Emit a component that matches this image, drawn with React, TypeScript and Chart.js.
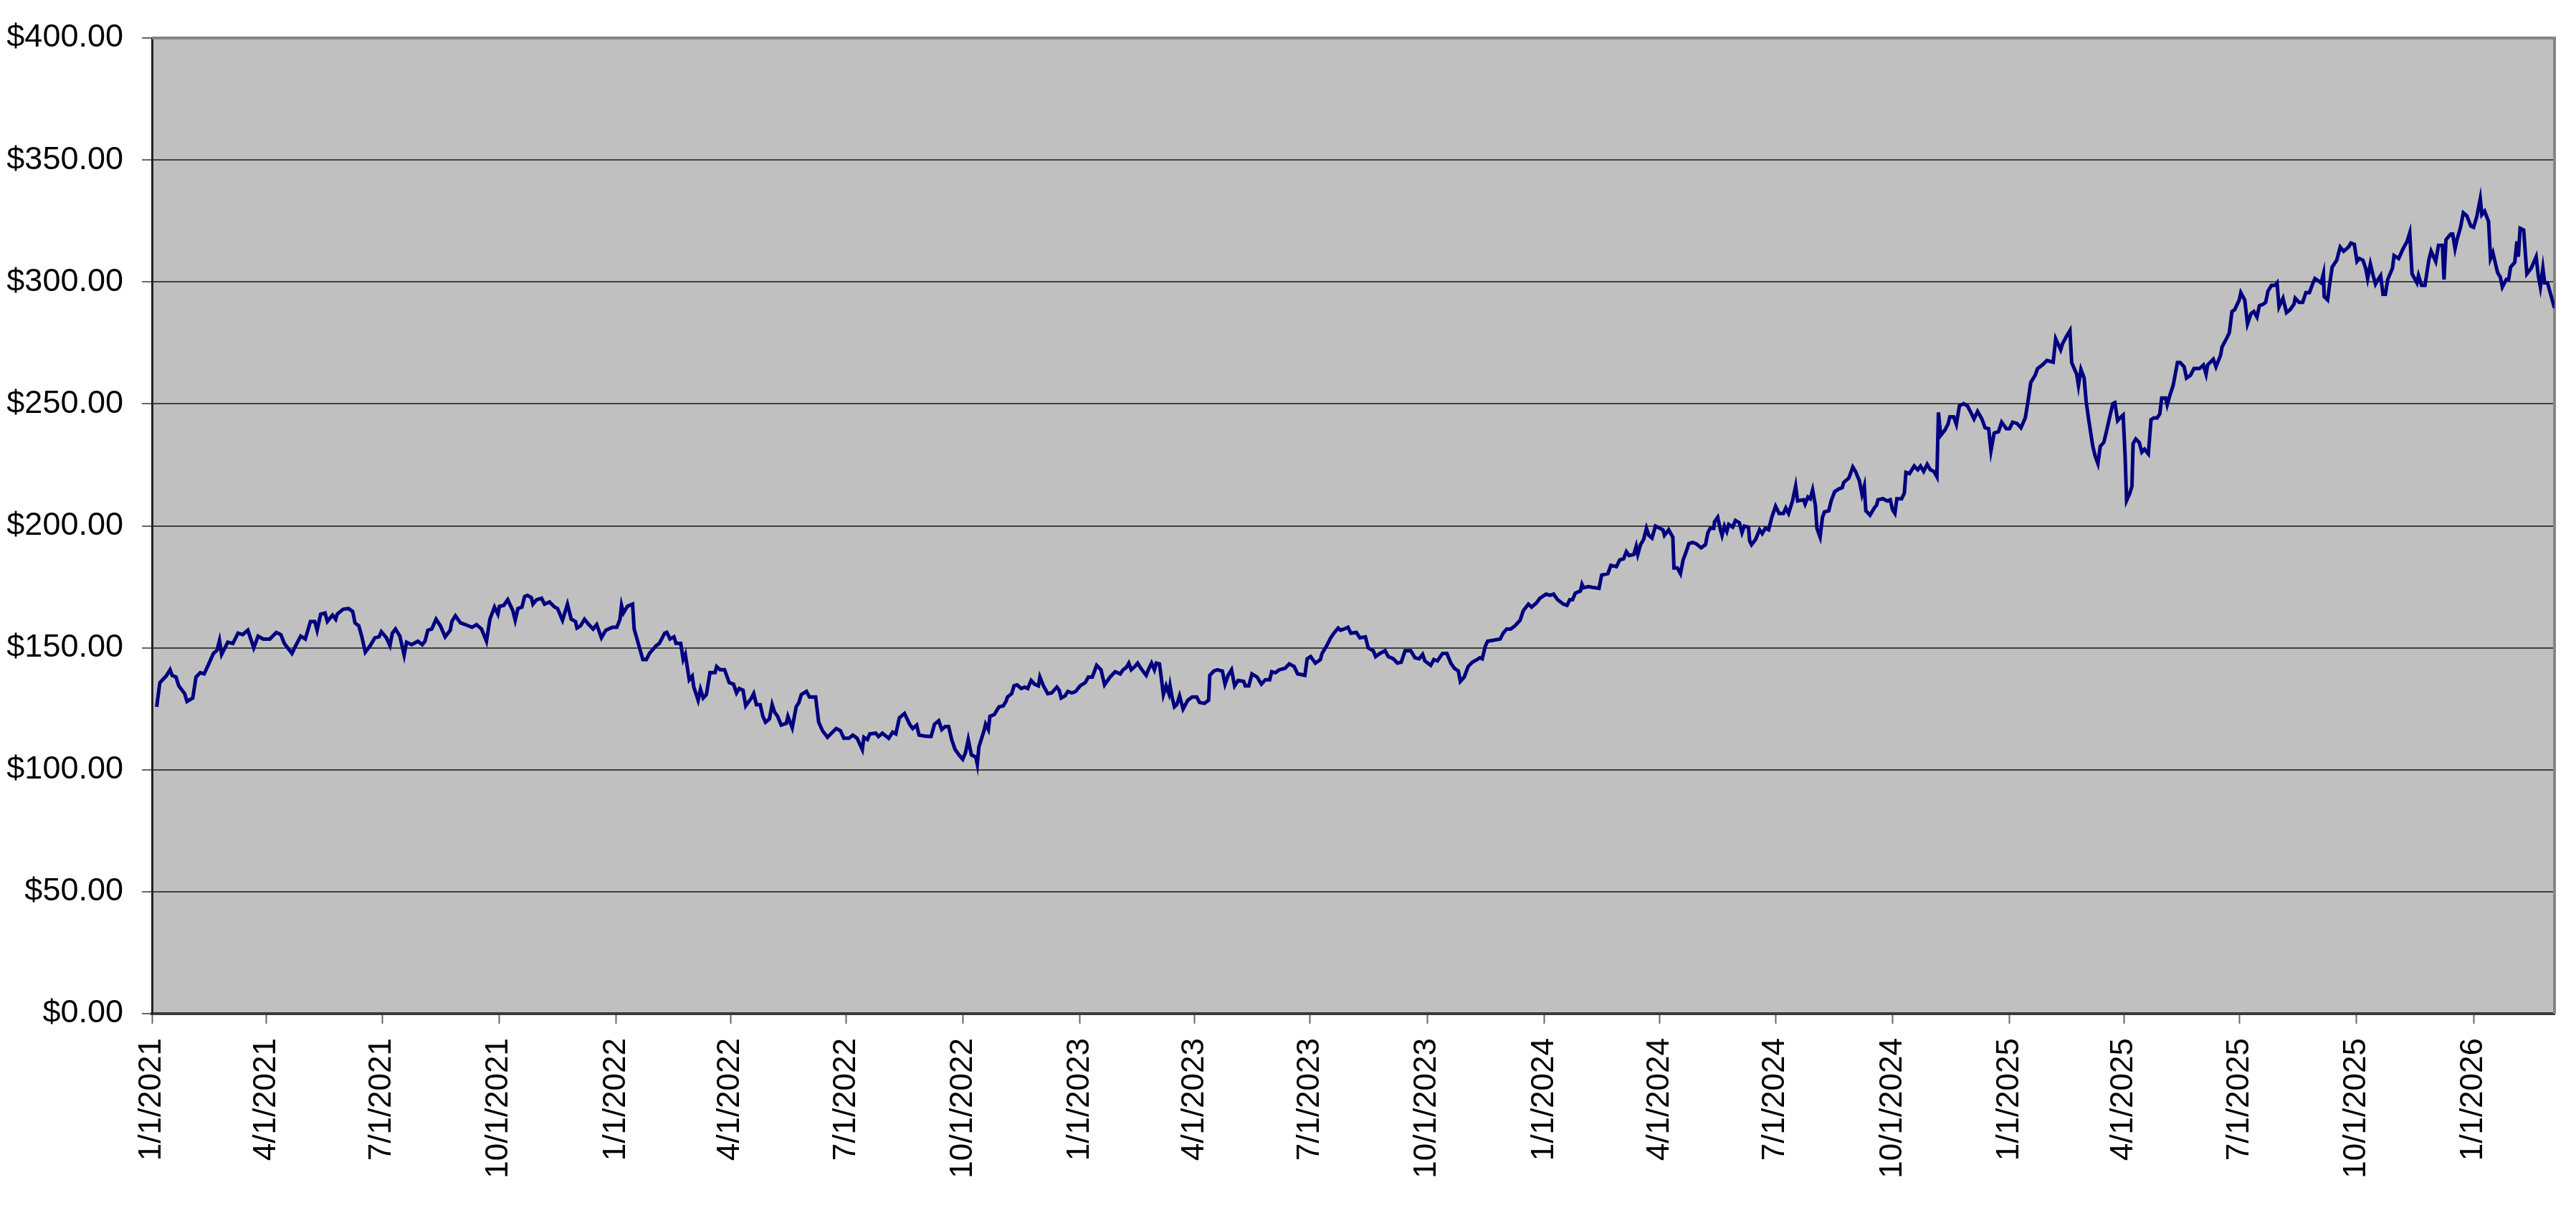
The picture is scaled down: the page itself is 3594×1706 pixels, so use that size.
import React, { useEffect, useRef } from 'react'
import { Chart, registerables } from 'chart.js'
import type { Plugin } from 'chart.js'

Chart.register(...registerables)

// position of each close, in months after 1/1/2021
const monthPos = [
  0.12, 0.2, 0.36, 0.46, 0.51, 0.61, 0.68, 0.83, 0.89, 1.04, 1.13, 1.25, 1.36, 1.47, 1.62, 1.72, 1.79, 1.85,
  2.02, 2.15, 2.28, 2.4, 2.53, 2.68, 2.79, 2.92, 3.09, 3.26, 3.38, 3.47, 3.67, 3.77, 3.9, 4.02, 4.15, 4.26,
  4.32, 4.41, 4.52, 4.58, 4.71, 4.79, 4.83, 4.98, 5.12, 5.23, 5.29, 5.39, 5.47, 5.56, 5.69, 5.81, 5.92, 5.98,
  6.11, 6.2, 6.26, 6.34, 6.45, 6.56, 6.62, 6.75, 6.91, 7.02, 7.09, 7.16, 7.26, 7.37, 7.48, 7.6, 7.73, 7.77,
  7.86, 7.99, 8.12, 8.29, 8.41, 8.54, 8.67, 8.76, 8.88, 8.97, 9.01, 9.12, 9.22, 9.35, 9.41, 9.48, 9.58, 9.65,
  9.72, 9.82, 9.86, 9.95, 10.08, 10.16, 10.29, 10.42, 10.5, 10.63, 10.76, 10.86, 10.97, 11.01, 11.1, 11.2,
  11.31, 11.42, 11.51, 11.63, 11.74, 11.91, 12.02, 12.1, 12.14, 12.19, 12.29, 12.42, 12.46, 12.68,
  12.77, 12.85, 13.02, 13.11, 13.26, 13.32, 13.41, 13.52, 13.58, 13.71, 13.78, 13.84, 13.95, 14.03, 14.07,
  14.18, 14.24, 14.31, 14.39, 14.48, 14.61, 14.65, 14.74, 14.85, 14.97, 15.08, 15.16, 15.23, 15.33, 15.4,
  15.55, 15.61, 15.68, 15.78, 15.85, 15.92, 16.02, 16.09, 16.15, 16.23, 16.32, 16.45, 16.49, 16.6, 16.7,
  16.77, 16.83, 16.96, 17.04, 17.2, 17.28, 17.38, 17.51, 17.68, 17.74, 17.85, 17.94, 18.07, 18.17, 18.28,
  18.41, 18.45, 18.54, 18.6, 18.75, 18.82, 18.92, 19.08, 19.18, 19.26, 19.35, 19.48, 19.61, 19.69, 19.79,
  19.85, 19.99, 20.16, 20.25, 20.36, 20.44, 20.53, 20.62, 20.7, 20.79, 20.89, 20.99, 21.06, 21.13, 21.21,
  21.32, 21.36, 21.4, 21.53, 21.57, 21.64, 21.68, 21.79, 21.91, 22.02, 22.09, 22.13, 22.24, 22.3, 22.38,
  22.49, 22.58, 22.66, 22.75, 22.84, 22.94, 22.98, 23.07, 23.18, 23.28, 23.41, 23.47, 23.52, 23.62, 23.69,
  23.79, 23.89, 24.0, 24.13, 24.21, 24.31, 24.42, 24.53, 24.62, 24.76, 24.89, 25.02, 25.1, 25.19,
  25.26, 25.33, 25.43, 25.51, 25.6, 25.69, 25.75, 25.81, 25.9, 25.98, 26.03, 26.11, 26.15, 26.21, 26.28,
  26.35, 26.38, 26.43, 26.49, 26.55, 26.62, 26.71, 26.83, 26.94, 27.06, 27.13, 27.26, 27.37, 27.4, 27.51,
  27.6, 27.73, 27.8, 27.88, 27.97, 28.05, 28.14, 28.28, 28.32, 28.41, 28.49, 28.62, 28.73, 28.83, 28.94,
  28.99, 29.09, 29.19, 29.34, 29.45, 29.58, 29.67, 29.86, 29.92, 30.01, 30.13, 30.26, 30.3, 30.41, 30.52,
  30.6, 30.71, 30.77, 30.86, 30.96, 31.03, 31.17, 31.26, 31.4, 31.47, 31.6, 31.66, 31.77, 31.9, 31.98,
  32.11, 32.22, 32.32, 32.42, 32.57, 32.68, 32.79, 32.88, 32.94, 33.09, 33.17, 33.26, 33.39, 33.5, 33.6,
  33.69, 33.79, 33.84, 33.94, 34.04, 34.15, 34.28, 34.35, 34.41, 34.49, 34.55, 34.71, 34.88, 34.96, 35.05,
  35.15, 35.26, 35.39, 35.47, 35.6, 35.68, 35.81, 35.89, 36.05, 36.15, 36.24, 36.34, 36.49, 36.58, 36.65,
  36.72, 36.79, 36.92, 36.96, 37.0, 37.13,
  37.23, 37.42, 37.49, 37.66, 37.74, 37.89, 37.98, 38.08, 38.15, 38.22, 38.34, 38.4, 38.44, 38.51, 38.59,
  38.66, 38.72, 38.8, 38.89, 39.0, 39.08, 39.12, 39.23, 39.34, 39.37, 39.46, 39.54, 39.61, 39.69, 39.76,
  39.86, 39.95, 40.08, 40.19, 40.25, 40.31, 40.4, 40.42, 40.5, 40.56, 40.61, 40.67, 40.73, 40.78, 40.88,
  40.95, 41.05, 41.12, 41.18, 41.29, 41.32, 41.37, 41.48, 41.58, 41.65, 41.73, 41.82, 41.9, 42.0, 42.09,
  42.2, 42.26, 42.33, 42.43, 42.51, 42.56, 42.71, 42.75, 42.82, 42.88, 42.94, 43.01, 43.05, 43.13, 43.19,
  43.24, 43.35, 43.41, 43.5, 43.6, 43.69, 43.73, 43.86, 43.96, 44.03, 44.13, 44.2, 44.26, 44.3, 44.41,
  44.52, 44.58, 44.62, 44.75, 44.86, 44.94, 45.0, 45.06, 45.11, 45.23, 45.3, 45.34, 45.43, 45.55, 45.64,
  45.71, 45.79, 45.88, 45.96, 46.05, 46.13, 46.17, 46.23, 46.34, 46.42, 46.47, 46.57, 46.64, 46.72, 46.83,
  46.93, 47.02, 47.1, 47.19, 47.3, 47.38, 47.47, 47.53, 47.61, 47.72, 47.8, 47.92, 48.0, 48.08, 48.19,
  48.29, 48.4, 48.48, 48.54, 48.65, 48.71, 48.85, 48.95, 49.12, 49.19,
  49.33, 49.38, 49.49, 49.59, 49.64, 49.71, 49.78, 49.83, 49.9, 49.99, 50.04, 50.11, 50.21, 50.27, 50.34,
  50.4, 50.49, 50.56, 50.65, 50.72, 50.77, 50.84, 50.9, 50.98, 51.03, 51.07, 51.15, 51.21, 51.24, 51.31,
  51.4, 51.47, 51.54, 51.64, 51.71, 51.78, 51.87, 51.94, 51.99, 52.09, 52.13, 52.2, 52.28, 52.39, 52.46,
  52.56, 52.62, 52.72, 52.81, 52.95, 53.05, 53.12, 53.16, 53.31, 53.38, 53.5, 53.54, 53.66, 53.73, 53.8,
  53.87, 53.99, 54.03, 54.13, 54.2, 54.29, 54.36, 54.44, 54.5, 54.6, 54.66, 54.72, 54.81, 54.9, 54.95,
  55.0, 55.1, 55.19, 55.28, 55.38, 55.41, 55.51, 55.6, 55.68, 55.77, 55.85, 55.91, 56.01, 56.07, 56.13,
  56.15, 56.24, 56.29, 56.36, 56.48, 56.57, 56.66, 56.79, 56.85, 56.94, 57.01, 57.07, 57.16, 57.23, 57.28,
  57.35, 57.42, 57.48, 57.56, 57.61, 57.67, 57.73, 57.79, 57.91, 57.95, 58.07, 58.17, 58.29, 58.36, 58.42,
  58.55, 58.59, 58.67, 58.76, 58.86, 58.92, 59.04, 59.11, 59.21, 59.25, 59.3, 59.42, 59.47, 59.53, 59.58,
  59.67, 59.74, 59.83, 59.93, 60.0, 60.08, 60.17, 60.21, 60.28, 60.38, 60.43, 60.49, 60.61, 60.68, 60.73,
  60.83, 60.89, 60.94, 61.05, 61.11, 61.15, 61.2, 61.3, 61.39, 61.51, 61.65, 61.71, 61.77, 61.84, 61.89,
  61.97, 62.02, 62.15,
]

const prices = [
  125.8, 135.7, 138.4, 141, 138.7, 138, 134.4, 131.2, 128, 129.4, 138, 139.8, 139.3, 142.8, 147.7, 149, 153, 147.3,
  152.3, 151.8, 156, 155.4, 157.2, 150, 154.8, 153.6, 153.6, 156.3, 155.4, 151.8, 147.7, 150.9, 154.8, 153.6, 160.8, 160.8,
  157.2, 163.8, 164.3, 160.8, 163.4, 161.7, 163.8, 165.8, 166.1, 164.9, 160.2, 159, 154.5, 148.2, 150.9, 154.1, 154.5, 156.6,
  154.1, 150.9, 156, 157.7, 154.8, 147, 152.3, 151.3, 152.7, 151.3, 152.7, 157.2, 157.7, 161.7, 159, 154.5, 157.2, 160.8,
  163.1, 160.2, 159.5, 158.4, 159.5, 157.7, 152.7, 161.7, 166.7, 163.8, 167, 167.4, 169.7, 165.2, 161.3, 166.1, 166.7, 171,
  171.5, 170.6, 167.9, 169.7, 170.3, 167.9, 168.8, 166.7, 166.1, 161.3, 167.9, 161.7, 160.8, 158.1, 159, 161.7,
  159.5, 157.7, 159.5, 154.1, 157.2, 158.4, 158.4, 161.7, 167.4, 164.3, 167, 167.9, 157.7, 145.2,
  145.2, 147.7, 150.9, 151.8, 156, 156.3, 153.6, 154.5, 151.8, 151.8, 145.2, 147.3, 136.9, 138.4, 133.9,
  128.5, 133, 129.4, 130.8, 139.8, 139.8, 142.3, 141, 141, 135.7, 135.1, 131.5, 133.3, 132.6, 126.2,
  129.4, 131.2, 126.7, 126.7, 121.9, 119.5, 120.8, 126.7, 123.7, 121.9, 118.3, 119, 121.9, 117.2, 125.8,
  127.6, 130.8, 132.1, 129.8, 129.8, 119.5, 116, 113.3, 116, 116.9, 116, 112.9, 112.9, 114.2, 112.9,
  108.3, 113.3, 112.4, 114.7, 115, 113.6, 115, 112.9, 115.4, 114.7, 121.3, 123.1, 118.7, 116.9, 118.3,
  114.2, 113.8, 113.6, 118.7, 120.1, 116.5, 117.7, 117.7, 112.4, 108.3, 106.1, 104.3, 107, 112.4, 106.1,
  105.2, 102.2, 109.3, 116, 118.7, 116.5, 121.9, 122.6, 125.8, 126.2, 128, 129.8, 131.2, 134.4, 134.8,
  133.3, 133.9, 133.3, 136.6, 135.1, 134.4, 138, 134.4, 131.2, 131.5, 133.9, 132.6, 129.4, 130.3, 132.1,
  131.5, 132.1, 134.4, 135.7, 138, 138, 142.8, 141, 134.8, 138, 140.2, 139.3, 141, 141.9,
  143.7, 141, 142.3, 143.7, 141.6, 139.8, 138.7, 141, 143.7, 141, 143.7, 143.4, 138.7, 130.8, 134.4,
  131.2, 134.4, 129.8, 125.8, 126.7, 130.3, 124.9, 128.5, 129.8, 129.8, 127.6, 127.2, 128.5, 138.7, 140.5,
  141, 140.5, 135.1, 138.7, 141, 134.4, 136.6, 136.2, 134.4, 134.4, 139.3, 138, 135.1, 136.9, 136.9,
  140.2, 139.8, 141, 141.6, 143.4, 142.3, 139.3, 138.7, 145.5, 146.4, 143.7, 145.2, 147.7, 150.6, 154.1,
  156, 158.1, 157.2, 157.7, 158.4, 156, 156.3, 154.1, 154.5, 150, 148.8, 146.4, 147.7, 148.8, 146.4,
  145.5, 143.7, 144.1, 148.8, 148.8, 145.9, 145.5, 147.3, 144.6, 142.8, 145.2, 144.6, 147.7, 147.7, 143.7,
  141.6, 140.5, 136.2, 138, 142.3, 144.1, 145.2, 145.9, 145.5, 150.6, 152.7, 153.1, 153.6, 156, 157.7,
  157.7, 159, 161.3, 165.2, 167.9, 166.7, 168.5, 170.3, 172, 171.5, 172, 169.7, 167.9, 167.4, 169.7,
  169.7, 172.4, 173.3, 176, 174.6, 175.1,
  174.8, 174.4, 179.8, 180.4, 183.8, 183.3, 186, 186.5, 189.4, 187.8, 188.3, 191.6, 188.3, 192.3, 194.5,
  199, 196.1, 195, 199.9, 199, 198.4, 196.1, 198.4, 195.4, 182.7, 182.7, 180.4, 186, 189.4, 192.7,
  193.2, 192.7, 191, 192.3, 197.2, 199, 199, 201.7, 203.5, 199, 196.1, 199.9, 197.7, 200.6, 199.5,
  202.2, 201.3, 197.2, 199.9, 199.5, 193.9, 192.3, 194.5, 198.4, 196.8, 199, 198.4, 203.5, 208, 205.1,
  205.1, 207.3, 205.1, 210.2, 216.3, 210.2, 210.7, 208.9, 211.8, 211.1, 214.7, 208.4, 199, 195.4, 203.5,
  205.7, 206.2, 210.2, 214, 215.1, 215.6, 217.8, 219.6, 224.1, 222.3, 218.5, 212.9, 216.3, 206.2, 204.4,
  207.3, 208.4, 210.7, 211.1, 210.2, 210.7, 206.6, 205.1, 211.1, 211.1, 213.4, 221.9, 221.4, 224.5, 223,
  224.5, 222.3, 225.2, 223, 222.3, 220.1, 246.5, 237.1, 239.3, 241.6, 244.7, 244.7, 241.6, 249.2, 250.1,
  249.2, 246.5, 243.8, 246.9, 243.8, 240.2, 239.8, 230.8, 238, 238.6, 242.5, 239.8, 239.8, 242.5, 242,
  240.2, 244.2, 252.1, 258.8, 261.7, 264.4, 266.2, 267.8, 267.1, 276.7,
  272.2, 274.6, 277.6, 280, 266.9, 264.5, 262.2, 257.5, 264.1, 260.6, 251.2, 243.1, 232.6, 228.6, 225.5,
  232.6, 234.2, 238.9, 245.4, 250.1, 250.5, 243.1, 244.2, 245.4, 229, 210.4, 213.2, 216.2, 233.7, 235.6,
  234.2, 230.2, 231.4, 229.5, 243.5, 244.2, 244.2, 245.9, 252.4, 252.4, 249.6, 253.6, 257.5, 266.9, 266.9,
  265.2, 260.6, 261.7, 264.5, 264.5, 265.9, 262.2, 265.9, 268.3, 265.2, 269.9, 273.4, 276.9, 279.2, 287.9,
  288.6, 292.6, 295.6, 292.6, 282.8, 287, 287.9, 285.6, 290.2, 290.9, 291.6, 296.3, 298.6, 298.6, 299.6,
  289.8, 293.3, 287.4, 288.6, 290.9, 293.3, 291.6, 291.6, 295.6, 295.6, 299.1, 301.4, 300.3, 299.6, 303.3,
  294, 292.6, 298.6, 306.1, 308.9, 314.3, 312.6, 314.3, 315.9, 315.4, 308.4, 309.6, 308.9, 305.6, 301.4,
  307.3, 302.6, 299.1, 301.4, 302.6, 294.9, 294.9, 301, 305.6, 310.8, 309.6, 313.1, 316.6, 320.1, 303.3,
  299.6, 302.6, 298.6, 298.6, 308.9, 312.6, 308.4, 315, 315, 301, 317.3, 319.6, 319.6, 313.6, 317.3,
  322.4, 328.3, 327.1, 322.9, 322.4, 326.6, 334.1, 327.6, 329, 324.8, 309.6, 312, 303.8, 301.9, 297.9,
  301, 301, 306.1, 308, 316.6, 310.3, 322, 321.3, 303.3, 305.6, 310.3, 302.6, 297.9, 305.6, 299.6,
  299.6, 296.8, 289.3,
]

const quarterLabels = [
  '1/1/2021', '4/1/2021', '7/1/2021', '10/1/2021',
  '1/1/2022', '4/1/2022', '7/1/2022', '10/1/2022',
  '1/1/2023', '4/1/2023', '7/1/2023', '10/1/2023',
  '1/1/2024', '4/1/2024', '7/1/2024', '10/1/2024',
  '1/1/2025', '4/1/2025', '7/1/2025', '10/1/2025',
  '1/1/2026',
]

const yTicks = [0, 50, 100, 150, 200, 250, 300, 350, 400]

const DAY = 86400000
const ORIGIN = Date.UTC(2021, 0, 1)
const FONT = '"Liberation Sans", Arial, sans-serif'

function monthToDay(m: number) {
  const mi = Math.floor(m)
  const start = Date.UTC(2021, mi, 1)
  const len = Date.UTC(2021, mi + 1, 1) - start
  return (start + (m - mi) * len - ORIGIN) / DAY
}

function labelToDay(label: string) {
  const [mo, d, y] = label.split('/').map(Number)
  return (Date.UTC(y, mo - 1, d) - ORIGIN) / DAY
}

const tickDays = quarterLabels.map(labelToDay)
const points = monthPos.map((m, i) => ({ x: monthToDay(m), y: prices[i] }))

const plotFrame: Plugin<'line'> = {
  id: 'plotFrame',
  beforeDraw(chart) {
    const { ctx, chartArea: a } = chart
    ctx.save()
    ctx.fillStyle = '#c0c0c0'
    ctx.fillRect(a.left, a.top, a.right - a.left, a.bottom - a.top)
    ctx.restore()
  },
  beforeDatasetsDraw(chart) {
    const { ctx, chartArea: a } = chart
    ctx.save()
    ctx.strokeStyle = '#858585'
    ctx.lineWidth = 4
    ctx.beginPath()
    ctx.moveTo(a.left, a.top)
    ctx.lineTo(a.right, a.top)
    ctx.lineTo(a.right, a.bottom)
    ctx.stroke()
    ctx.restore()
  },
}

function PriceChart() {
  const canvasRef = useRef<HTMLCanvasElement>(null)
  const chartRef = useRef<Chart | null>(null)

  useEffect(() => {
    if (!canvasRef.current) return
    chartRef.current?.destroy()

    chartRef.current = new Chart(canvasRef.current, {
      type: 'line',
      data: {
        datasets: [
          {
            data: points,
            borderColor: '#000080',
            borderWidth: 5,
            pointRadius: 0,
            tension: 0,
          },
        ],
      },
      options: {
        animation: false,
        responsive: true,
        maintainAspectRatio: false,
        layout: { padding: { top: 47, right: 30, left: 0, bottom: 0 } },
        plugins: {
          legend: { display: false },
          tooltip: { enabled: false },
        },
        scales: {
          x: {
            type: 'linear',
            min: 0,
            max: points[points.length - 1].x,
            afterBuildTicks: (s) => {
              s.ticks = tickDays.map(v => ({ value: v }))
            },
            afterFit: (s) => {
              s.height = 292
            },
            ticks: {
              autoSkip: false,
              minRotation: 90,
              maxRotation: 90,
              padding: 20,
              color: '#000',
              font: { family: FONT, size: 44 },
              callback: (v) => quarterLabels[tickDays.indexOf(Number(v))] ?? '',
            },
            grid: {
              drawOnChartArea: false,
              drawTicks: true,
              tickLength: 14,
              tickColor: '#666',
              tickWidth: 2,
            },
            border: { display: true, color: '#3a3a3a', width: 4 },
          },
          y: {
            min: 0,
            max: 400,
            afterBuildTicks: (s) => {
              s.ticks = yTicks.map(v => ({ value: v }))
            },
            afterFit: (s) => {
              s.width = 212
            },
            ticks: {
              padding: 26,
              color: '#000',
              font: { family: FONT, size: 45 },
              callback: (v) => `$${Number(v).toFixed(2)}`,
            },
            grid: {
              color: '#404040',
              lineWidth: 2,
              tickLength: 14,
              tickColor: '#666',
              tickWidth: 2,
            },
            border: { display: true, color: '#222', width: 3 },
          },
        },
      },
      plugins: [plotFrame],
    })

    return () => {
      chartRef.current?.destroy()
      chartRef.current = null
    }
  }, [])

  return (
    <div style={{ position: 'absolute', left: 0, top: 0, width: 3594, height: 1706, background: '#fff' }}>
      <canvas ref={canvasRef} />
    </div>
  )
}

export default function App() {
  return <PriceChart />
}
